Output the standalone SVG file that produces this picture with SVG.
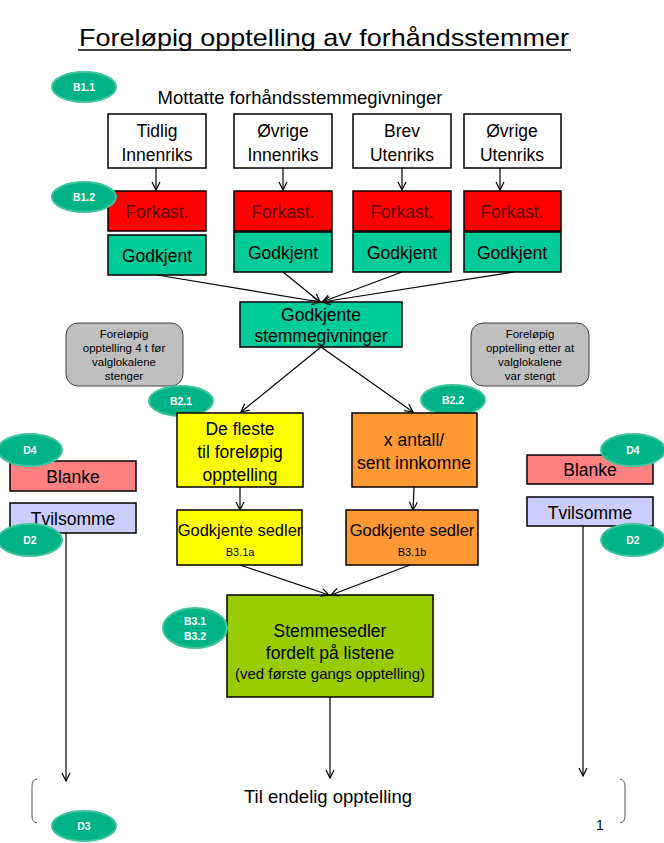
<svg xmlns="http://www.w3.org/2000/svg" width="664" height="843" viewBox="0 0 664 843">
<defs>
<marker id="arr" markerWidth="10" markerHeight="10" refX="9" refY="5" orient="auto" markerUnits="userSpaceOnUse">
<path d="M1,1 L9,5 L1,9" fill="none" stroke="#000" stroke-width="1.2"/>
</marker>
<style>
text{font-family:"Liberation Sans",Arial,sans-serif;text-anchor:middle;fill:#000}
.box{stroke:#000;stroke-width:1.5}
.w{fill:#fff}
.red{fill:#ff0000}
.teal{fill:#00cc99}
.yel{fill:#ffff00}
.org{fill:#ff9933}
.grn{fill:#99cc00}
.pink{fill:#ff8080}
.lav{fill:#ccccff}
.gray{fill:#bfbfbf;stroke:#404040;stroke-width:1}
.t16{font-size:17.5px}
.t15{font-size:16.5px}
.t13{font-size:15px}
.t10{font-size:11.5px}
.fk{fill:#600000}
.ell{fill:#00b386;stroke:#3fc49c;stroke-width:2}
.el{font-size:10.5px;fill:#fff;font-weight:bold}
.c{stroke:#000;stroke-width:1.2;fill:none}
</style>
</defs>
<rect width="664" height="843" fill="#fff"/>

<g id="title">
<text x="324" y="46" font-size="24" textLength="490" lengthAdjust="spacingAndGlyphs">Foreløpig opptelling av forhåndsstemmer</text>
<line x1="78" y1="50" x2="571" y2="50" stroke="#000" stroke-width="1.5"/>
</g>

<g id="b11"><ellipse class="ell" cx="84" cy="87" rx="32" ry="15"/><text class="el" x="84" y="91">B1.1</text></g>
<g id="mottatte"><text x="300" y="104" font-size="18.5">Mottatte forhåndsstemmegivninger</text></g>

<g id="tidlig"><rect class="box w" x="108" y="114" width="98" height="54"/><text class="t16" x="157" y="137">Tidlig</text><text class="t16" x="157" y="161">Innenriks</text></g>
<g id="ovrigeinn"><rect class="box w" x="234" y="114" width="98" height="54"/><text class="t16" x="283" y="137">Øvrige</text><text class="t16" x="283" y="161">Innenriks</text></g>
<g id="brev"><rect class="box w" x="353" y="114" width="98" height="54"/><text class="t16" x="402" y="137">Brev</text><text class="t16" x="402" y="161">Utenriks</text></g>
<g id="ovrigeut"><rect class="box w" x="464" y="114" width="97" height="54"/><text class="t16" x="512" y="137">Øvrige</text><text class="t16" x="512" y="161">Utenriks</text></g>

<g id="fk1"><rect class="box red" x="108" y="191" width="98" height="40"/><text class="t16 fk" x="157" y="218">Forkast.</text></g>
<g id="fk2"><rect class="box red" x="234" y="191" width="98" height="40"/><text class="t16 fk" x="283" y="218">Forkast.</text></g>
<g id="fk3"><rect class="box red" x="353" y="191" width="98" height="40"/><text class="t16 fk" x="402" y="218">Forkast.</text></g>
<g id="fk4"><rect class="box red" x="464" y="191" width="97" height="40"/><text class="t16 fk" x="512" y="218">Forkast.</text></g>

<g id="gk1"><rect class="box teal" x="108" y="235" width="98" height="40"/><text class="t16" x="157" y="262">Godkjent</text></g>
<g id="gk2"><rect class="box teal" x="234" y="232" width="98" height="40"/><text class="t16" x="283" y="259">Godkjent</text></g>
<g id="gk3"><rect class="box teal" x="353" y="232" width="98" height="40"/><text class="t16" x="402" y="259">Godkjent</text></g>
<g id="gk4"><rect class="box teal" x="464" y="232" width="97" height="40"/><text class="t16" x="512" y="259">Godkjent</text></g>

<g id="b12"><ellipse class="ell" cx="84" cy="197" rx="32" ry="15"/><text class="el" x="84" y="201">B1.2</text></g>

<g id="godkjente"><rect class="box teal" x="240" y="302" width="162" height="45"/><text class="t16" x="321" y="321">Godkjente</text><text class="t16" x="321" y="342">stemmegivninger</text></g>

<g id="note1"><rect class="gray" x="66" y="323" width="117" height="63" rx="12"/>
<text class="t10" x="124" y="338">Foreløpig</text><text class="t10" x="124" y="352">opptelling 4 t før</text><text class="t10" x="124" y="366">valglokalene</text><text class="t10" x="124" y="380">stenger</text></g>
<g id="note2"><rect class="gray" x="471" y="323" width="118" height="63" rx="12"/>
<text class="t10" x="530" y="338">Foreløpig</text><text class="t10" x="530" y="352">opptelling etter at</text><text class="t10" x="530" y="366">valglokalene</text><text class="t10" x="530" y="380">var stengt</text></g>

<g id="b21"><ellipse class="ell" cx="181" cy="401" rx="32" ry="15"/><text class="el" x="181" y="405">B2.1</text></g>
<g id="b22"><ellipse class="ell" cx="453" cy="400" rx="32" ry="15"/><text class="el" x="453" y="404">B2.2</text></g>

<g id="defleste"><rect class="box yel" x="177" y="413" width="126" height="74"/><text class="t16" x="240" y="435">De fleste</text><text class="t16" x="240" y="458">til foreløpig</text><text class="t16" x="240" y="481">opptelling</text></g>
<g id="xantall"><rect class="box org" x="352" y="413" width="125" height="74"/><text class="t16" x="414" y="446">x antall/</text><text class="t16" x="414" y="469">sent innkomne</text></g>

<g id="sedlera"><rect class="box yel" x="177" y="510" width="125" height="55"/><text class="t15" x="240" y="536">Godkjente sedler</text><text x="240" y="556" font-size="11">B3.1a</text></g>
<g id="sedlerb"><rect class="box org" x="346" y="510" width="132" height="55"/><text class="t15" x="412" y="536">Godkjente sedler</text><text x="412" y="556" font-size="11">B3.1b</text></g>

<g id="fordelt"><rect class="box grn" x="227" y="595" width="206" height="102"/><text class="t16" x="330" y="637">Stemmesedler</text><text class="t16" x="330" y="659">fordelt på listene</text><text class="t13" x="330" y="679">(ved første gangs opptelling)</text></g>
<g id="b3"><ellipse class="ell" cx="195" cy="628" rx="32" ry="20"/><text class="el" x="195" y="625">B3.1</text><text class="el" x="195" y="640">B3.2</text></g>

<g id="blankeL"><rect class="box pink" x="10" y="461" width="126" height="30"/><text class="t16" x="73" y="483">Blanke</text></g>
<g id="tvilL"><rect class="box lav" x="10" y="503" width="126" height="30"/><text class="t16" x="73" y="525">Tvilsomme</text></g>
<g id="d4L"><ellipse class="ell" cx="30" cy="450" rx="32" ry="16"/><text class="el" x="30" y="454">D4</text></g>
<g id="d2L"><ellipse class="ell" cx="30" cy="540" rx="32" ry="16"/><text class="el" x="30" y="544">D2</text></g>

<g id="blankeR"><rect class="box pink" x="527" y="455" width="126" height="29"/><text class="t16" x="590" y="476">Blanke</text></g>
<g id="tvilR"><rect class="box lav" x="527" y="497" width="126" height="29"/><text class="t16" x="590" y="519">Tvilsomme</text></g>
<g id="d4R"><ellipse class="ell" cx="633" cy="450" rx="32" ry="16"/><text class="el" x="633" y="454">D4</text></g>
<g id="d2R"><ellipse class="ell" cx="633" cy="540" rx="32" ry="16"/><text class="el" x="633" y="544">D2</text></g>

<g id="final"><text x="328" y="803" font-size="18.5">Til endelig opptelling</text>
<path d="M37,779 Q32,780 32,786 L32,816 Q32,822 37,823" fill="none" stroke="#555" stroke-width="1"/>
<path d="M620,779 Q625,780 625,786 L625,816 Q625,822 620,823" fill="none" stroke="#555" stroke-width="1"/>
</g>
<g id="d3"><ellipse class="ell" cx="84" cy="826" rx="32" ry="15"/><text class="el" x="84" y="830">D3</text></g>
<g id="page"><text x="600" y="830" font-size="14">1</text></g>

<g id="connectors">
<line class="c" x1="156" y1="168" x2="156" y2="190" marker-end="url(#arr)"/>
<line class="c" x1="283" y1="168" x2="283" y2="190" marker-end="url(#arr)"/>
<line class="c" x1="402" y1="168" x2="402" y2="190" marker-end="url(#arr)"/>
<line class="c" x1="500" y1="168" x2="500" y2="190" marker-end="url(#arr)"/>
<line class="c" x1="157" y1="275" x2="320" y2="302" marker-end="url(#arr)"/>
<line class="c" x1="283" y1="272" x2="320" y2="302" marker-end="url(#arr)"/>
<line class="c" x1="402" y1="272" x2="322" y2="302" marker-end="url(#arr)"/>
<line class="c" x1="514" y1="272" x2="322" y2="302" marker-end="url(#arr)"/>
<line class="c" x1="321" y1="347" x2="241" y2="412" marker-end="url(#arr)"/>
<line class="c" x1="321" y1="347" x2="413" y2="412" marker-end="url(#arr)"/>
<line class="c" x1="240" y1="487" x2="240" y2="510" marker-end="url(#arr)"/>
<line class="c" x1="414" y1="487" x2="413" y2="510" marker-end="url(#arr)"/>
<line class="c" x1="240" y1="565" x2="329" y2="595" marker-end="url(#arr)"/>
<line class="c" x1="410" y1="565" x2="331" y2="595" marker-end="url(#arr)"/>
<line class="c" x1="330" y1="697" x2="330" y2="778" marker-end="url(#arr)"/>
<line class="c" x1="66" y1="533" x2="66" y2="781" marker-end="url(#arr)"/>
<line class="c" x1="583" y1="526" x2="583" y2="776" marker-end="url(#arr)"/>
</g>
</svg>
